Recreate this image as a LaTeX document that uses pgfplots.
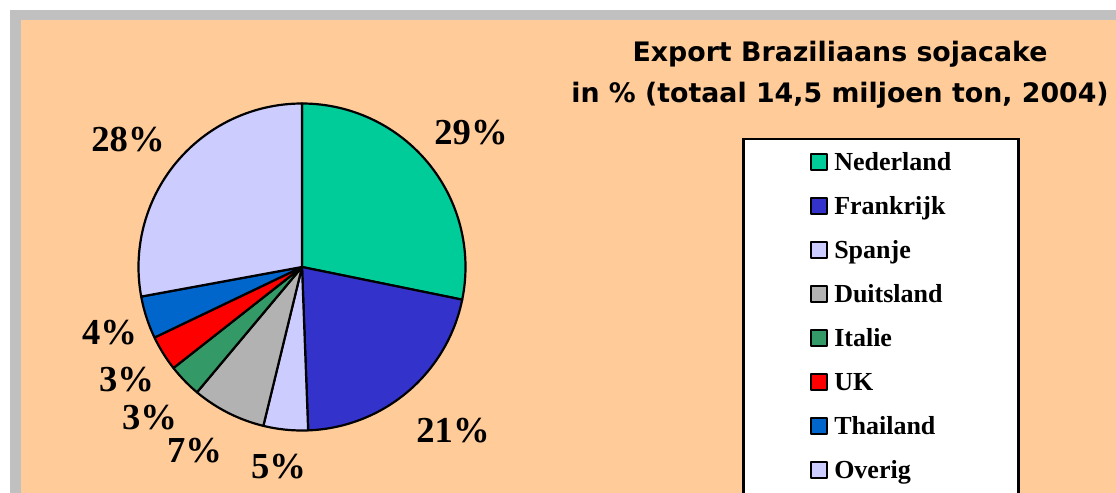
\documentclass[border=0pt]{standalone}
\usepackage{pgfplots}
\pgfplotsset{compat=1.18}
\usepackage{fontspec}
\setmainfont{Liberation Serif}
\newfontfamily\titlefont{DejaVu Sans}
\definecolor{bgPeach}{HTML}{FFCC99}
\definecolor{bgFrame}{HTML}{C0C0C0}
\definecolor{cNed}{HTML}{00CC99}
\definecolor{cFra}{HTML}{3333CC}
\definecolor{cSpa}{HTML}{CCCCFF}
\definecolor{cDui}{HTML}{B2B2B2}
\definecolor{cIta}{HTML}{339966}
\definecolor{cUK}{HTML}{FF0000}
\definecolor{cTha}{HTML}{0066CC}
\definecolor{cOve}{HTML}{CCCCFF}

% slice: colour, share before it (%), share (%), name -- clockwise from 12 o'clock
\newcommand{\pieslice}[4]{%
  \addplot[fill=#1, draw=black, line width=1.1pt, line join=round,
    domain={90-3.6*(#2+#3)}:{90-3.6*(#2)}, samples=90, variable=\t]
    ({302+163.5*cos(\t)}, {226+163.5*sin(\t)}) -- (axis cs:302,226) -- cycle;
  \addlegendentry{#4}}

\newcommand{\lbl}{\fontsize{18.3}{20}\selectfont\bfseries}

\begin{document}
\begin{tikzpicture}
\useasboundingbox (0,0) rectangle (558pt,246.5pt);
\clip (0,0) rectangle (558pt,246.5pt);
\fill[white] (0,0) rectangle (558pt,246.5pt);
\fill[bgFrame] (5pt,0) rectangle (558pt,241.5pt);
\fill[bgPeach] (10.5pt,0) rectangle (558pt,236.5pt);
\begin{axis}[
    at={(0,0)}, anchor=south west,
    width=558pt, height=246.5pt, scale only axis,
    xmin=0, xmax=1116, ymin=0, ymax=493,
    hide axis, clip=false,
    legend cell align=left,
    legend image code/.code={\draw[#1, line width=1pt] (0pt,-4pt) rectangle (8pt,4pt);},
    legend style={at={(axis cs:742,355)}, anchor=north west,
        draw=black, line width=1.25pt, fill=white,
        inner xsep=33.5pt, inner ysep=5pt, row sep=9.5pt,
        font=\fontsize{13}{15}\selectfont\bfseries,
        nodes={inner sep=0pt, text height=10.5pt, text depth=2pt},
        /tikz/every odd column/.append style={column sep=3pt}},
]
\pieslice{cNed}{0}{28.2}{Nederland}
\pieslice{cFra}{28.2}{21.2}{Frankrijk}
\pieslice{cSpa}{49.4}{4.4}{Spanje}
\pieslice{cDui}{53.8}{7.3}{Duitsland}
\pieslice{cIta}{61.1}{3.3}{Italie}
\pieslice{cUK}{64.4}{3.5}{UK}
\pieslice{cTha}{67.9}{4.2}{Thailand}
\pieslice{cOve}{72.1}{27.9}{Overig}
% the legend box runs on below the picture's edge
\addlegendimage{empty legend}\addlegendentry{}

\node[anchor=base, font=\lbl] at (axis cs:471,348) {29\%};
\node[anchor=base, font=\lbl] at (axis cs:128,341) {28\%};
\node[anchor=base, font=\lbl] at (axis cs:453,50) {21\%};
\node[anchor=base, font=\lbl] at (axis cs:109.5,148) {4\%};
\node[anchor=base, font=\lbl] at (axis cs:126.5,101) {3\%};
\node[anchor=base, font=\lbl] at (axis cs:149.5,63) {3\%};
\node[anchor=base, font=\lbl] at (axis cs:194.5,30) {7\%};
\node[anchor=base, font=\lbl] at (axis cs:278.5,14) {5\%};

\node[anchor=base, font=\titlefont\bfseries\fontsize{13.4}{16}\selectfont] at (axis cs:840,431) {Export Braziliaans sojacake};
\node[anchor=base, font=\titlefont\bfseries\fontsize{13.4}{16}\selectfont] at (axis cs:840,390) {in \% (totaal 14,5 miljoen ton, 2004)};
\end{axis}
\end{tikzpicture}
\end{document}
